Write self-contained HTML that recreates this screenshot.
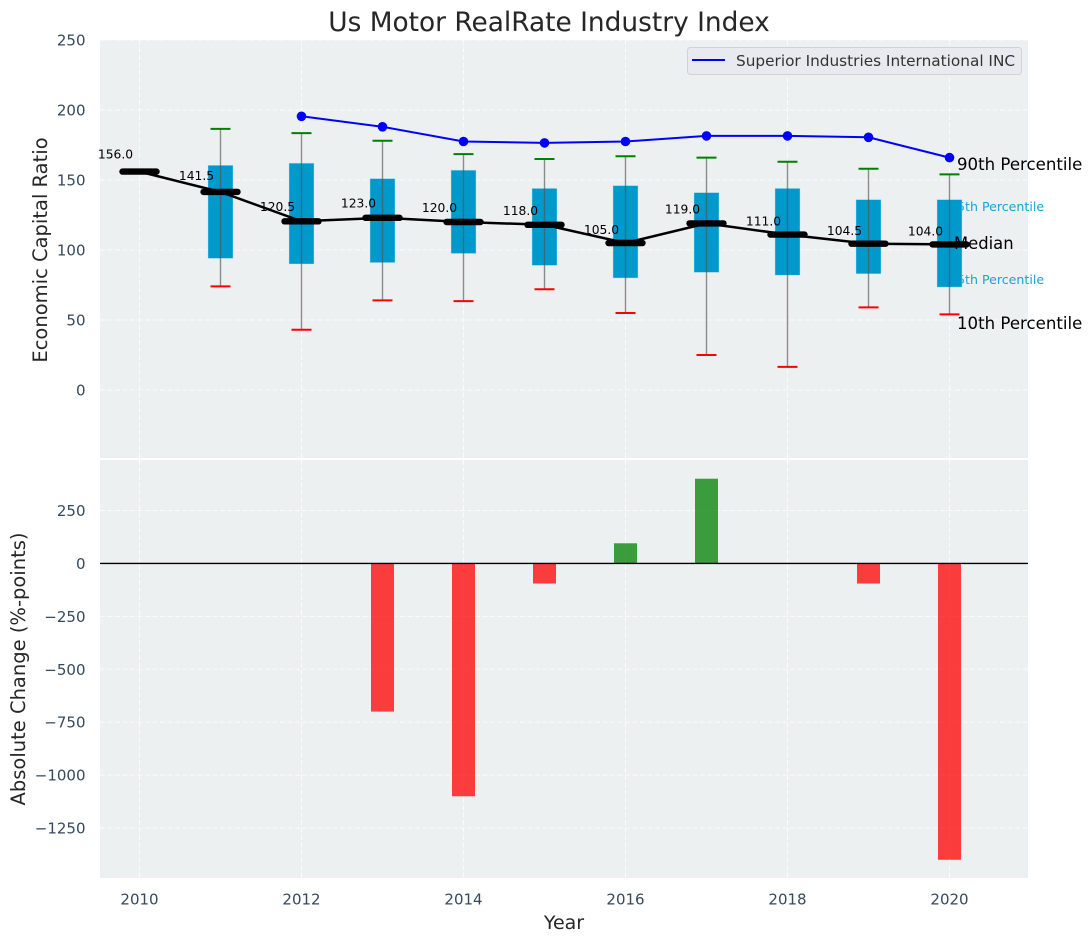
<!DOCTYPE html>
<html lang="en">
<head>
<meta charset="utf-8">
<title>Us Motor RealRate Industry Index</title>
<style>
html,body{margin:0;padding:0;background:#fff;}
svg{display:block;font-family:"DejaVu Sans","Liberation Sans",sans-serif;}
</style>
</head>
<body>
<svg id="chart" width="1092" height="942" viewBox="0 0 1092 942" xmlns="http://www.w3.org/2000/svg">
  <rect x="100" y="40" width="928" height="418" fill="#ecf0f1"/>
  <rect x="100" y="460" width="928" height="418" fill="#ecf0f1"/>
  <g id="grid"></g>
  <g id="percentile-under">
    <text x="949" y="211" font-size="12.6" fill="#1aa3d1">75th Percentile</text>
    <text x="949" y="284" font-size="12.6" fill="#1aa3d1">25th Percentile</text>
  </g>
  <g id="boxes"></g>
  <g id="bars"></g>
  <g id="lines"></g>
  <g id="percentile-over">
    <text x="957" y="170" font-size="16.6" fill="#000">90th Percentile</text>
    <text x="954" y="249" font-size="16.4" fill="#000">Median</text>
    <text x="957" y="329" font-size="16.6" fill="#000">10th Percentile</text>
  </g>
  <g id="medians"></g>
  <g id="ticks"></g>
  <text x="549" y="31" font-size="26.4" fill="#262626" text-anchor="middle">Us Motor RealRate Industry Index</text>
  <text x="564" y="929" font-size="19" fill="#262626" text-anchor="middle">Year</text>
  <text transform="translate(47,250) rotate(-90)" font-size="19.5" fill="#262626" text-anchor="middle">Economic Capital Ratio</text>
  <text transform="translate(25,669) rotate(-90)" font-size="19.5" fill="#262626" text-anchor="middle">Absolute Change (%-points)</text>
  <g>
    <rect x="687.5" y="47.5" width="334" height="27" rx="3" fill="#e9eaef" stroke="#cfd2d6"/>
    <line x1="692" y1="60" x2="725" y2="60" stroke="#0000ff" stroke-width="2"/>
    <text x="736" y="66" font-size="15.3" fill="#333">Superior Industries International INC</text>
  </g>
</svg>
<script>
const years = [2010, 2011, 2012, 2013, 2014, 2015, 2016, 2017, 2018, 2019, 2020];
const medianValues = [156, 141.5, 120.5, 123, 120, 118, 105, 119, 111, 104.5, 104];
const p90Values = [null, 186.5, 183.5, 178, 168.5, 165, 167, 166, 163, 158, 154];
const p75Values = [null, 160.5, 162, 151, 157, 144, 146, 141, 144, 136, 136];
const p25Values = [null, 94, 90, 91, 97.5, 89, 80, 84, 82, 83, 73.5];
const p10Values = [null, 74, 43, 64, 63.5, 72, 55, 25, 16.5, 59, 54];
const companyValues = [null, null, 195.5, 188, 177.5, 176.5, 177.5, 181.5, 181.5, 180.5, 166];
const changeValues = [0, 0, 0, -700, -1100, -95, 95, 400, 0, -95, -1400];
const xTickLabels = [2010, 2012, 2014, 2016, 2018, 2020];
const upperTickLabels = [0, 50, 100, 150, 200, 250];
const lowerTickLabels = [250, 0, -250, -500, -750, -1000, -1250];

function xScale(year) { return 139.5 + (year - 2010) * 81; }
function yUpper(value) { return 390 - value * 1.4; }
function yLower(value) { return 563.4 - value * 0.2117; }

const NS = 'http://www.w3.org/2000/svg';
function make(parentId, tag, attrs) {
  const node = document.createElementNS(NS, tag);
  for (const key in attrs) node.setAttribute(key, attrs[key]);
  document.getElementById(parentId).appendChild(node);
  return node;
}
let el;

/* grid */
xTickLabels.forEach(function (year) {
  el = make('grid', 'line', {x1: xScale(year), x2: xScale(year), y1: 40, y2: 458, stroke: '#fff', 'stroke-width': 1, 'stroke-dasharray': '5 2.5', opacity: 0.75});
  
  
  el = make('grid', 'line', {x1: xScale(year), x2: xScale(year), y1: 460, y2: 878, stroke: '#fff', 'stroke-width': 1, 'stroke-dasharray': '5 2.5', opacity: 0.75});
  
  
  el = make('ticks', 'text', {x: xScale(year), y: 904.5, 'font-size': 15, fill: '#34495e', 'text-anchor': 'middle'});
  el.textContent = year;
  
  
});
upperTickLabels.forEach(function (value) {
  el = make('grid', 'line', {x1: 100, x2: 1028, y1: yUpper(value), y2: yUpper(value), stroke: '#fff', 'stroke-width': 1, 'stroke-dasharray': '5 2.5', opacity: 0.75});
  
  
  el = make('ticks', 'text', {x: 85.5, y: yUpper(value) + 5.5, 'font-size': 15, fill: '#34495e', 'text-anchor': 'end'});
  el.textContent = value;
  
  
});
lowerTickLabels.forEach(function (value) {
  el = make('grid', 'line', {x1: 100, x2: 1028, y1: yLower(value), y2: yLower(value), stroke: '#fff', 'stroke-width': 1, 'stroke-dasharray': '5 2.5', opacity: 0.75});
  
  
  el = make('ticks', 'text', {x: 85.5, y: yLower(value) + 5.5, 'font-size': 15, fill: '#34495e', 'text-anchor': 'end'});
  el.textContent = String(value).replace('-', '\u2212');
  
  
});

/* boxes, whiskers and caps */
years.forEach(function (year, i) {
  if (p75Values[i] === null) return;
  const cx = xScale(year);
  el = make('boxes', 'rect', {x: cx - 12.5, y: yUpper(p75Values[i]), width: 25, height: yUpper(p25Values[i]) - yUpper(p75Values[i]), fill: '#0099cc', stroke: '#bfe3ef', 'stroke-width': 0.6, 'stroke-opacity': 0.7});
  
  
  el = make('boxes', 'line', {x1: cx, x2: cx, y1: yUpper(p90Values[i]), y2: yUpper(p10Values[i]), stroke: '#555', 'stroke-width': 1.4, opacity: 0.65});
  
  
  el = make('boxes', 'line', {x1: cx - 10, x2: cx + 10, y1: yUpper(p90Values[i]), y2: yUpper(p90Values[i]), stroke: '#008000', 'stroke-width': 2});
  
  
  el = make('boxes', 'line', {x1: cx - 10, x2: cx + 10, y1: yUpper(p10Values[i]), y2: yUpper(p10Values[i]), stroke: '#ff0000', 'stroke-width': 2});
  
  
});

/* change bars */
years.forEach(function (year, i) {
  const value = changeValues[i];
  if (value === 0) return;
  const top = Math.min(yLower(value), yLower(0));
  const height = Math.abs(yLower(value) - yLower(0));
  el = make('bars', 'rect', {x: xScale(year) - 11.5, y: top, width: 23, height: height, fill: value < 0 ? '#ff0000' : '#008000', 'fill-opacity': 0.75});
  
  
});
el = make('bars', 'line', {x1: 100, x2: 1028, y1: yLower(0), y2: yLower(0), stroke: '#000', 'stroke-width': 1.4});



/* company line */
const companyPoints = [];
years.forEach(function (year, i) {
  if (companyValues[i] !== null) companyPoints.push(xScale(year) + ',' + yUpper(companyValues[i]));
});
el = make('lines', 'polyline', {points: companyPoints.join(' '), fill: 'none', stroke: '#0000ff', 'stroke-width': 2});


years.forEach(function (year, i) {
  if (companyValues[i] === null) return;
  el = make('lines', 'circle', {cx: xScale(year), cy: yUpper(companyValues[i]), r: 4.8, fill: '#0000ff'});
  
  
});

/* median line, markers, printed values */
const medianPoints = years.map(function (year, i) { return xScale(year) + ',' + yUpper(medianValues[i]); });
el = make('medians', 'polyline', {points: medianPoints.join(' '), fill: 'none', stroke: '#000', 'stroke-width': 2.5});


years.forEach(function (year, i) {
  const cx = xScale(year);
  const cy = yUpper(medianValues[i]);
  el = make('medians', 'line', {x1: cx - 17, x2: cx + 17, y1: cy, y2: cy, stroke: '#000', 'stroke-width': 6.4, 'stroke-linecap': 'round'});
  
  
  el = make('medians', 'text', {x: cx - 24, y: yUpper(medianValues[i] * 1.06), 'font-size': 12.3, fill: '#000', 'text-anchor': 'middle'});
  el.textContent = medianValues[i].toFixed(1);
  
  
});
</script>
</body>
</html>
